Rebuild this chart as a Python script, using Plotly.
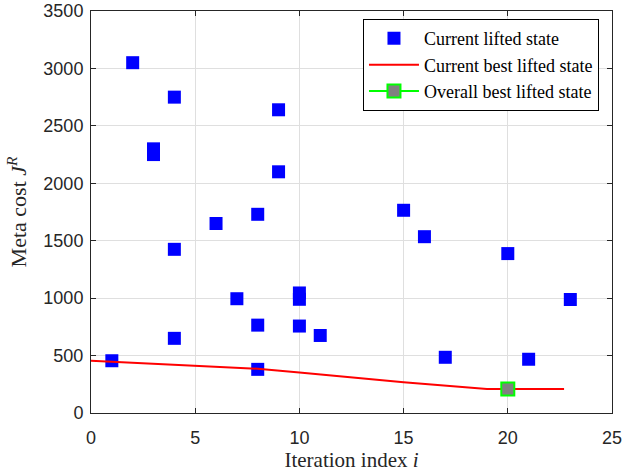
import plotly.graph_objects as go

# Current lifted state (scatter)
iter_idx = [1, 2, 3, 3, 4, 4, 4, 6, 7, 8, 8, 8, 9, 9, 10, 10, 10, 11, 15, 16, 17, 20, 21, 23, 20]
cost = [455, 3050, 2300, 2250, 2750, 1425, 650, 1650, 995, 1730, 765, 380, 2640, 2100,
        1045, 990, 757, 675, 1765, 1535, 485, 1388, 468, 988, 210]

# Current best lifted state (line)
best_x = [0, 8, 10, 15, 19, 22.7]
best_y = [455, 385, 352, 268, 210, 210]

# Overall best lifted state
overall_x = [20]
overall_y = [210]

serif = "Liberation Serif"
sans = "Liberation Sans"
axis_col = "#262626"
grid_col = "#dfdfdf"

fig = go.Figure()
fig.add_trace(go.Scatter(x=iter_idx, y=cost, mode="markers", name="Current lifted state",
                         marker=dict(symbol="square", size=13, color="#0000ff",
                                     line=dict(width=0))))
fig.add_trace(go.Scatter(x=best_x, y=best_y, mode="lines", name="Current best lifted state",
                         line=dict(color="#ff0000", width=2)))
fig.add_trace(go.Scatter(x=overall_x, y=overall_y, mode="lines+markers", name="Overall best lifted state",
                         line=dict(color="#00ff00", width=2),
                         marker=dict(symbol="square", size=13, color="#808080",
                                     line=dict(color="#00ff00", width=2))))

fig.update_layout(
    width=624, height=476,
    margin=dict(l=91, r=12, t=11, b=63),
    paper_bgcolor="white", plot_bgcolor="white",
    legend=dict(x=0.975, y=0.98, xanchor="right", yanchor="top",
                bgcolor="white", bordercolor="black", borderwidth=1,
                font=dict(family=serif, size=18, color="black"),
                itemwidth=50, tracegroupgap=0),
    showlegend=True,
)
fig.update_xaxes(range=[0, 25], tickvals=[0, 5, 10, 15, 20, 25],
                 showgrid=True, gridcolor=grid_col, zeroline=False,
                 showline=True, linecolor=axis_col, linewidth=1, mirror="ticks",
                 ticks="inside", ticklen=5, tickcolor=axis_col,
                 ticklabelstandoff=8, ticklabeloverflow="allow", automargin=False,
                 tickfont=dict(family=sans, size=18, color=axis_col),
                 title=dict(text="Iteration index <i>i</i>", font=dict(family=serif, size=21, color=axis_col),
                            standoff=3))
fig.update_yaxes(range=[0, 3500], tickvals=[0, 500, 1000, 1500, 2000, 2500, 3000, 3500],
                 showgrid=True, gridcolor=grid_col, zeroline=False,
                 showline=True, linecolor=axis_col, linewidth=1, mirror="ticks",
                 ticks="inside", ticklen=5, tickcolor=axis_col,
                 ticklabelstandoff=3, ticklabeloverflow="allow", automargin=False,
                 tickfont=dict(family=sans, size=18, color=axis_col),
                 title=dict(text="Meta cost <i>J</i><sup><i>R</i></sup>",
                            font=dict(family=serif, size=22, color=axis_col), standoff=10))

fig.write_html("out.html")
